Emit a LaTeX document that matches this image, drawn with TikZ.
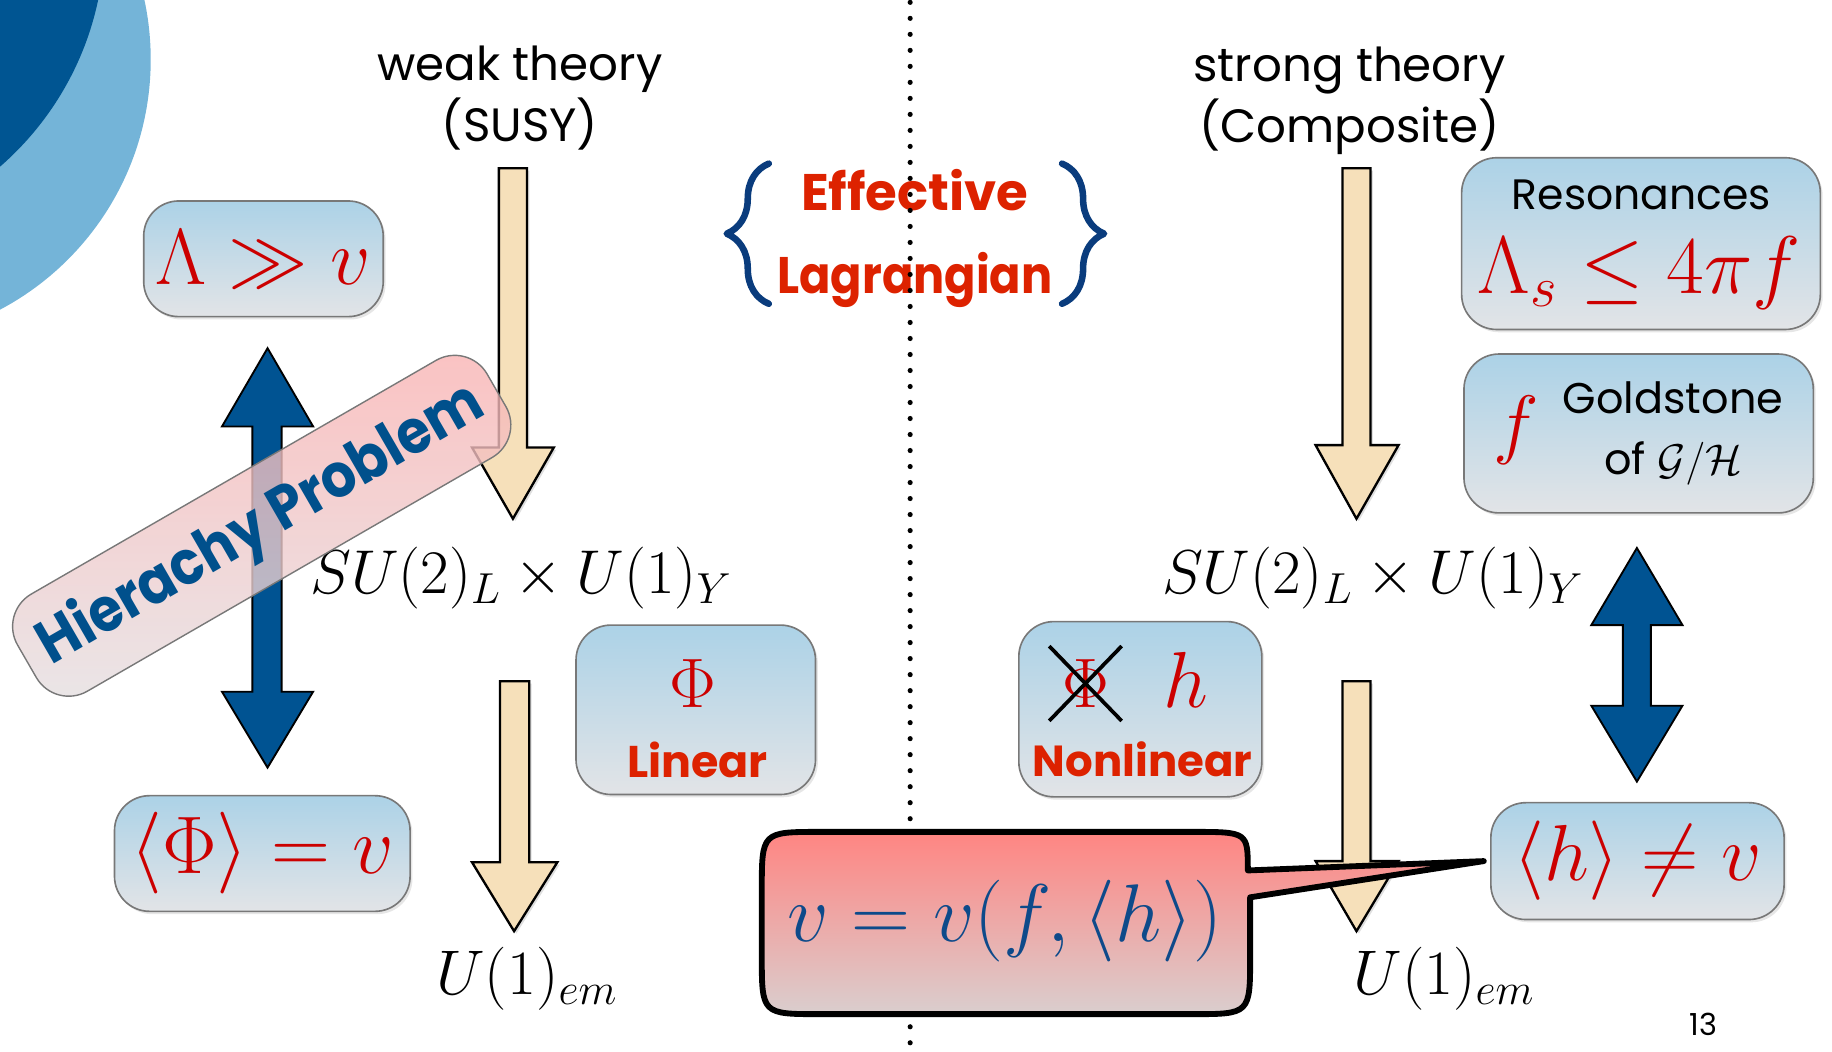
\RequirePackage{fix-cm}
\documentclass[tikz,border=0pt]{standalone}
\usepackage{fontspec}
\newfontfamily\comic{Poppins}
\newfontfamily\comicn{Poppins}[FakeStretch=0.9]
\usetikzlibrary{shadows,decorations.pathreplacing}
\definecolor{tancol}{RGB}{246,224,186}
\definecolor{arrowblue}{RGB}{0,83,146}
\definecolor{boxtop}{RGB}{172,210,231}
\definecolor{boxbot}{RGB}{226,228,231}
\definecolor{boxline}{RGB}{120,120,120}
\definecolor{cmred}{RGB}{204,0,0}
\definecolor{labelred}{RGB}{221,34,0}
\definecolor{hierblue}{RGB}{0,80,140}
\definecolor{bracecol}{RGB}{10,60,125}
\definecolor{bubtop}{RGB}{255,133,130}
\definecolor{bubbot}{RGB}{218,206,206}
\definecolor{bubtext}{RGB}{14,74,138}
\definecolor{pinktop}{RGB}{250,178,178}
\definecolor{pinkbot}{RGB}{228,224,226}
\definecolor{lightcirc}{RGB}{116,180,216}
\definecolor{darkcirc}{RGB}{0,85,146}
\begin{document}
\begin{tikzpicture}[x=0.5pt,y=-0.5pt,
  tanarrow/.style={fill=tancol, draw=black, line width=1pt, line join=miter,
     drop shadow={opacity=0.25, shadow xshift=1pt, shadow yshift=-1pt}},
  bluearrow/.style={fill=arrowblue, draw=black, line width=0.8pt},
  bluebox/.style={draw=boxline, line width=0.7pt, rounded corners=15pt,
     top color=boxtop, bottom color=boxbot, inner sep=0pt,
     drop shadow={opacity=0.2, shadow xshift=1pt, shadow yshift=-1.2pt}},
  lbl/.style={font=\comic\fontsize{20}{26}\selectfont, align=center, inner sep=0pt},
  redlbl/.style={font=\comic\bfseries\fontsize{19}{24}\selectfont, text=labelred, inner sep=0pt},
  redmath/.style={text=cmred, font=\fontsize{33}{40}\selectfont, inner sep=0pt},
  blackmath/.style={font=\fontsize{26.5}{32}\selectfont, inner sep=0pt},
  pinkbox/.style={draw=boxline, line width=0.6pt, rounded corners=16pt,
     top color=pinktop, bottom color=pinkbot, fill opacity=0.8, text opacity=1,
     text=hierblue, font=\comicn\bfseries\fontsize{26}{30}\selectfont, inner sep=0pt},
  bubble/.style={draw=black, line width=2.5pt, top color=bubtop, bottom color=bubbot, line join=round},
  curly/.style={bracecol, decorate, decoration={brace, amplitude=18pt}, line width=2.8pt, line cap=round, line join=round}
]
\useasboundingbox (0,0) rectangle (1568,900);
% decorative circles
\begin{scope}
\clip (0,0) rectangle (1568,900);
\fill[lightcirc] (-113,51) circle[radius=121pt];
\fill[darkcirc] (-171,-54) circle[radius=130.3pt];
\end{scope}

% headings
\node[lbl] (weak) at (445,84) {weak theory\\(SUSY)};
\node[lbl] (strong) at (1155,86) {strong theory\\(Composite)};

% effective lagrangian
\node[font=\comic\bfseries\fontsize{22}{35.5}\selectfont, text=labelred, align=center, inner sep=0pt] (eff) at (783,204) {Effective\\{\comicn Lagrangian}};
\draw[curly] (658,260) -- (658,140);
\draw[curly] (909,140) -- (909,260);

% dotted separator
\draw[line width=2.2pt, line cap=round, dash pattern=on 0pt off 6.85pt] (779,2) -- (779,900);

% tan arrows
\path[tanarrow] (427,144) -- (451,144) -- (451,383) -- (474,383) -- (439,444) -- (404,383) -- (427,383) -- cycle;
\path[tanarrow] (428,583) -- (453,583) -- (453,738) -- (477,738) -- (440,797) -- (404,738) -- (428,738) -- cycle;
\path[tanarrow] (1149,144) -- (1173,144) -- (1173,381) -- (1197,381) -- (1161,444) -- (1126,381) -- (1149,381) -- cycle;
\path[tanarrow] (1149,583) -- (1173,583) -- (1173,737) -- (1197,737) -- (1161,797) -- (1126,737) -- (1149,737) -- cycle;

% blue double arrows
\path[bluearrow] (229,298) -- (268,365) -- (241,365) -- (241,592) -- (268,592) -- (229,657) -- (190,592) -- (216,592) -- (216,365) -- (190,365) -- cycle;
\path[bluearrow] (1401,469) -- (1440,535) -- (1413,535) -- (1413,604) -- (1440,604) -- (1401,669) -- (1362,604) -- (1389,604) -- (1389,535) -- (1362,535) -- cycle;

% group labels
\node[blackmath] (sul) at (446,495) {$SU(2)_L\times U(1)_Y$};
\node[blackmath] (sur) at (1175,495) {$SU(2)_L\times U(1)_Y$};
\node[blackmath, font=\fontsize{27}{32}\selectfont] (uleft) at (451,838) {$U(1)_{em}$};
\node[blackmath, font=\fontsize{27}{32}\selectfont] (uright) at (1236,838) {$U(1)_{em}$};

% boxes
\node[bluebox, redmath, font=\fontsize{34}{40}\selectfont, minimum width=102.5pt, minimum height=49.5pt] (lam) at (225.5,221.5) {$\Lambda \gg v$};
\node[bluebox, redmath, font=\fontsize{35}{40}\selectfont, minimum width=126.5pt, minimum height=49.5pt] (phiv) at (224.5,730.5) {$\langle\Phi\rangle = v$};
\node[bluebox, redmath, font=\fontsize{34}{40}\selectfont, minimum width=125.5pt, minimum height=50pt] (hneq) at (1401.5,737) {$\langle h\rangle \neq v$};

\node[bluebox, minimum width=102.5pt, minimum height=72.5pt] (linbox) at (595.5,607.5) {};
\node[redmath, font=\fontsize{30}{36}\selectfont] (phi) at (593,585) {$\Phi$};
\node[redlbl] (lin) at (597,650) {Linear};

\node[bluebox, minimum width=104pt, minimum height=75pt] (nlbox) at (976,607) {};
\node[redmath, font=\fontsize{30}{36}\selectfont] (xphi) at (929,585) {$\Phi$};
\node[redmath, font=\fontsize{34}{40}\selectfont] (hh) at (1015,582) {$h$};
\draw[line width=1.6pt] ([shift={(-31,-32)}]xphi.center) -- ([shift={(31,32)}]xphi.center);
\draw[line width=1.6pt] ([shift={(-31,32)}]xphi.center) -- ([shift={(31,-32)}]xphi.center);
\node[redlbl, font=\comic\bfseries\fontsize{18.6}{24}\selectfont] (nonlin) at (978,650) {Nonlinear};

\node[bluebox, minimum width=153.5pt, minimum height=73.5pt] (resbox) at (1404.5,208.5) {};
\node[lbl, font=\comic\fontsize{18.2}{24}\selectfont] (res) at (1405,167) {Resonances};
\node[redmath, font=\fontsize{35}{40}\selectfont] (resm) at (1403,234) {$\Lambda_s \leq 4\pi f$};

\node[bluebox, minimum width=149.5pt, minimum height=68pt] (goldbox) at (1402.5,371) {};
\node[redmath, font=\fontsize{33}{40}\selectfont] (ff) at (1298,368) {$f$};
\node[lbl, font=\comic\fontsize{18.4}{26}\selectfont] (gold) at (1432,371) {Goldstone\\of $\mathcal{G}/\mathcal{H}$};

% speech bubble
\path[bubble] (652,762) .. controls (652,712) .. (702,712) -- (1020,712) .. controls (1068,712) .. (1068,745) -- (1270,737) -- (1070,768) -- (1070,818) .. controls (1070,868) .. (1020,868) -- (702,868) .. controls (652,868) .. (652,818) -- cycle;
\node[text=bubtext, font=\fontsize{35}{40}\selectfont, inner sep=0pt] (vform) at (860,788) {$v = v(f,\langle h\rangle)$};

% hierarchy problem
\node[pinkbox, rotate=30, minimum width=232pt, minimum height=48pt] (hier) at (224,450) {Hierachy Problem};

% page number
\node[font=\comic\fontsize{13}{16}\selectfont, inner sep=0pt] (pnum) at (1458,877) {13};
\end{tikzpicture}
\end{document}
